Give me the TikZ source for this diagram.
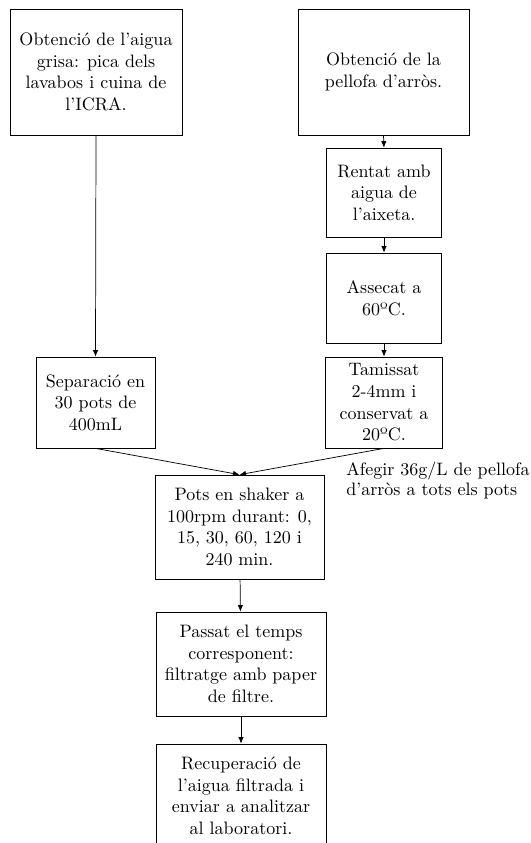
\documentclass[tikz,border=0pt]{standalone}
\usetikzlibrary{arrows.meta}
\begin{document}
\begin{tikzpicture}[x=0.5556pt,y=-0.5556pt,
  box/.style={draw,thin,align=center,inner sep=0pt},
  arr/.style={-{Latex[length=3.6pt,width=3pt]},thin}]
\useasboundingbox (0,0) rectangle (531,843);
\clip (0,0) rectangle (531,843);
\node[box,minimum width=172*0.5556pt,minimum height=126*0.5556pt] (n1) at (96,72)
  {Obtenció de l’aigua\\grisa: pica dels\\lavabos i cuina de\\l’ICRA.};
\node[box,minimum width=171*0.5556pt,minimum height=126*0.5556pt] (n2) at (383.5,72)
  {Obtenció de la\\pellofa d’arròs.};
\node[box,minimum width=115*0.5556pt,minimum height=89*0.5556pt] (rentat) at (384,192.5)
  {Rentat amb\\aigua de\\l’aixeta.};
\node[box,minimum width=115*0.5556pt,minimum height=90*0.5556pt] (assecat) at (384,298)
  {Assecat a\\60ºC.};
\node[box,minimum width=117*0.5556pt,minimum height=91*0.5556pt] (tamissat) at (384,402.5)
  {Tamissat\\2-4mm i\\conservat a\\20ºC.};
\node[box,minimum width=119*0.5556pt,minimum height=91*0.5556pt] (sep) at (95.5,402.5)
  {Separació en\\30 pots de\\400mL};
\node[box,minimum width=169*0.5556pt,minimum height=104*0.5556pt] (pots) at (239.5,527)
  {Pots en shaker a\\100rpm durant: 0,\\15, 30, 60, 120 i\\240 min.};
\node[box,minimum width=170*0.5556pt,minimum height=104*0.5556pt] (passat) at (241,664)
  {Passat el temps\\corresponent:\\filtratge amb paper\\de filtre.};
\node[box,minimum width=170*0.5556pt,minimum height=104*0.5556pt] (recup) at (241,796)
  {Recuperació de\\l’aigua filtrada i\\enviar a analitzar\\al laboratori.};
\node[anchor=north west,align=left,inner sep=0pt,font=\fontsize{10}{11}\selectfont] (lbl) at (346,462)
  {Afegir 36g/L de pellofa\\d’arròs a tots els pots};
\draw[arr] (n1.south) -- (sep.north);
\draw[arr] (n2.south) -- (rentat.north);
\draw[arr] (rentat) -- (assecat);
\draw[arr] (assecat) -- (tamissat);
\draw[arr] (sep.south) -- (pots.north);
\draw[arr] (tamissat.south) -- (pots.north);
\draw[arr] (pots) -- (passat);
\draw[arr] (passat) -- (recup);
\end{tikzpicture}
\end{document}
